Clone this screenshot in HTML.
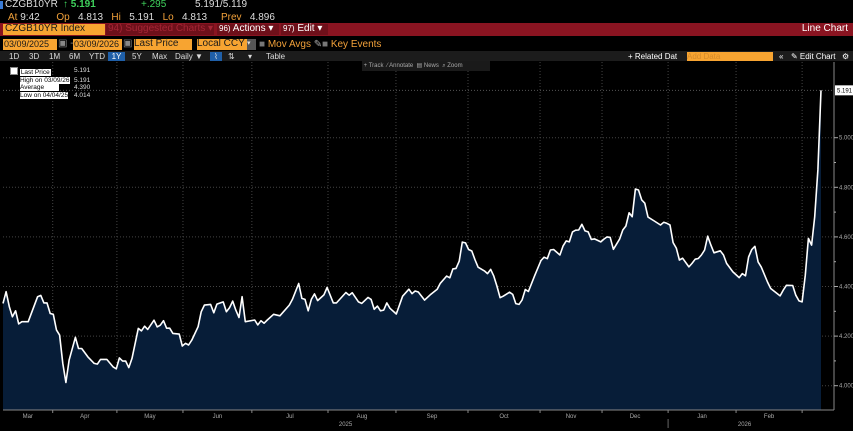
<!DOCTYPE html>
<html><head><meta charset="utf-8"><style>
body{margin:0;width:853px;height:431px;background:#000;overflow:hidden;font-family:"Liberation Sans",sans-serif;color:#ddd;position:relative}
.a{position:absolute;white-space:nowrap}
.t{font-size:10px;line-height:10px}
.o{color:#f2a13a}
.box{background:#f7a431;color:#1a1a1a}
.btn{position:absolute;top:52px;font-size:8px;line-height:9px;color:#ddd}
</style></head><body>
<div class="a" style="left:0;top:1px;width:3px;height:8px;background:#3a7bd5"></div>
<div class="a t" style="left:5px;top:0">CZGB10YR</div>
<div class="a t" style="left:63px;top:0;color:#3fd15c;font-weight:bold">↑ 5.191</div>
<div class="a t" style="left:141px;top:0;color:#3fd15c">+.295</div>
<div class="a t" style="left:195px;top:0">5.191/5.119</div>
<div class="a t" style="left:8px;top:13px"><span class="o">At</span> 9:42 &nbsp;&nbsp;&nbsp;&nbsp;&nbsp;<span class="o">Op</span>&nbsp;&nbsp; 4.813 &nbsp;&nbsp;<span class="o">Hi</span>&nbsp;&nbsp; 5.191 &nbsp;&nbsp;<span class="o">Lo</span>&nbsp;&nbsp; 4.813 &nbsp;&nbsp;&nbsp;&nbsp;<span class="o">Prev</span>&nbsp;&nbsp; 4.896</div>
<div class="a" style="left:0;top:23px;width:853px;height:13px;background:#8a1421"></div>
<div class="a t box" style="left:3px;top:24px;width:100px;height:11px;padding-left:2px;font-size:10px">CZGB10YR Index</div>
<div class="a t" style="left:106px;top:24px;width:106px;height:11px;background:#6e101a;color:#a52535;padding-left:2px">94) Suggested Charts ▾</div>
<div class="a t" style="left:217px;top:24px;width:60px;height:11px;background:#6e101a;color:#fff;padding-left:2px"><span style="font-size:8px">96)</span> Actions ▾</div>
<div class="a t" style="left:281px;top:24px;width:45px;height:11px;background:#6e101a;color:#fff;padding-left:2px"><span style="font-size:8px">97)</span> Edit ▾</div>
<div class="a t" style="right:5px;top:24px;color:#fff">Line Chart</div>
<div class="a t box" style="left:3px;top:39px;width:53px;height:11px;font-size:9px;padding-left:1px">03/09/2025</div>
<div class="a t" style="left:58px;top:39px;color:#888">▣ -</div>
<div class="a t box" style="left:73px;top:39px;width:48px;height:11px;font-size:9px;padding-left:1px">03/09/2026</div>
<div class="a t" style="left:123px;top:39px;color:#888">▣</div>
<div class="a t box" style="left:134px;top:39px;width:58px;height:11px">Last Price</div>
<div class="a t box" style="left:197px;top:39px;width:50px;height:11px">Local CCY</div>
<div class="a t" style="left:247px;top:39px;width:9px;height:11px;background:#555;color:#ddd;font-size:7px">▾</div>
<div class="a t o" style="left:259px;top:40px"><span style="color:#777">■</span> Mov Avgs <span style="color:#aaa">✎</span></div>
<div class="a t o" style="left:322px;top:40px"><span style="color:#777">■</span> Key Events</div>
<div class="a" style="left:0;top:51px;width:853px;height:10px;background:#1c1c1c"></div>
<div class="btn" style="left:9px">1D</div>
<div class="btn" style="left:29px">3D</div>
<div class="btn" style="left:49px">1M</div>
<div class="btn" style="left:69px">6M</div>
<div class="btn" style="left:89px">YTD</div>
<div class="btn" style="left:108px;width:17px;background:#1f5fa8;text-align:center;color:#fff">1Y</div>
<div class="btn" style="left:132px">5Y</div>
<div class="btn" style="left:152px">Max</div>
<div class="btn" style="left:175px">Daily ▼</div>
<div class="btn" style="left:210px;width:12px;background:#1f5fa8;text-align:center">⌇</div>
<div class="btn" style="left:228px">⇅</div>
<div class="btn" style="left:248px">▾</div>
<div class="btn" style="left:266px">Table</div>
<div class="btn" style="left:628px;color:#fff">+ Related Dat</div>
<div class="btn box" style="left:687px;width:86px;height:9px;color:#d58a2a">Add Data</div>
<div class="btn" style="left:779px;color:#fff">«</div>
<div class="btn" style="left:791px;color:#fff">✎ Edit Chart</div>
<div class="btn" style="left:842px;color:#fff">⚙</div>
<svg id="chart" class="a" style="left:0;top:0" width="853" height="431"></svg>
<script>
const days=[0,1,2,3,4,5,6,8,11,12,13,14,15,16,17,18,19,20,21,23,24,25,27,29,30,31,33,35,36,37,38,39,40,41,43,44,45,46,48,49,50,51,52,53,54,56,57,58,59,60,62,63,64,66,67,68,70,71,72,73,74,75,76,77,80,81,82,83,84,86,88,91,92,94,95,96,97,98,99,100,102,103,105,106,109,110,111,113,114,116,117,118,119,120,121,122,123,125,127,129,130,131,132,134,136,138,139,141,142,143,144,145,146,147,148,149,150,151,153,154,155,156,157,158,159,161,162,163,164,165,166,167,169,171,172,173,174,175,177,178,179,180,181,182,183,184,185,186,187,188,190,191,192,193,194,196,197,198,199,200,201,202,203,204,205,207,209,210,211,212,213,214,215,216,218,219,220,221,222,223,224,225,226,228,229,230,232,234,235,236,237,238,239,240,241,243,244,247,248,249,251,252,253,254,255,256,257,258,259,260];
const values=[4.332,4.379,4.319,4.278,4.302,4.249,4.258,4.258,4.359,4.364,4.334,4.334,4.291,4.288,4.224,4.204,4.090,4.013,4.103,4.195,4.150,4.150,4.116,4.090,4.087,4.106,4.106,4.076,4.068,4.112,4.099,4.099,4.073,4.110,4.231,4.221,4.240,4.227,4.264,4.237,4.244,4.262,4.232,4.232,4.211,4.208,4.160,4.171,4.164,4.184,4.238,4.298,4.325,4.328,4.294,4.329,4.338,4.298,4.314,4.341,4.305,4.275,4.359,4.258,4.265,4.245,4.262,4.252,4.265,4.288,4.282,4.325,4.348,4.412,4.352,4.348,4.302,4.348,4.370,4.343,4.366,4.396,4.334,4.334,4.376,4.365,4.375,4.338,4.332,4.356,4.348,4.308,4.321,4.302,4.305,4.334,4.312,4.289,4.361,4.389,4.371,4.382,4.378,4.345,4.369,4.389,4.413,4.442,4.435,4.471,4.473,4.502,4.579,4.576,4.549,4.543,4.509,4.478,4.463,4.452,4.469,4.442,4.402,4.355,4.361,4.377,4.368,4.331,4.328,4.346,4.388,4.380,4.444,4.505,4.518,4.512,4.547,4.549,4.527,4.563,4.584,4.580,4.620,4.627,4.628,4.651,4.624,4.620,4.590,4.592,4.580,4.591,4.600,4.598,4.550,4.591,4.628,4.644,4.697,4.681,4.793,4.789,4.749,4.736,4.680,4.664,4.648,4.659,4.655,4.648,4.577,4.555,4.507,4.514,4.479,4.493,4.510,4.513,4.527,4.547,4.603,4.567,4.536,4.544,4.527,4.493,4.459,4.436,4.452,4.443,4.519,4.549,4.562,4.499,4.479,4.418,4.392,4.362,4.385,4.405,4.404,4.365,4.342,4.338,4.446,4.594,4.567,4.681,4.871,5.191];
const monthStarts=[15.8,36.2,57.2,79.1,103.3,124.9,147.8,170.7,190.4,211.4,233,254];
const monthLabels=["Mar","Apr","May","Jun","Jul","Aug","Sep","Oct","Nov","Dec","Jan","Feb"];
const yTicks=[4.0,4.2,4.4,4.6,4.8,5.0];
const yearLabels=["2025","2026"];
const lastPrice=5.191;
const NS="http://www.w3.org/2000/svg";
const svg=document.getElementById('chart');
const X0=3,X1=821,DMAX=260,PB=410;
const xs=d=>X0+(X1-X0)*d/DMAX;
const ys=v=>385.7-(v-4)*248;
function mk(t,a,p){const e=document.createElementNS(NS,t);for(const k in a)e.setAttribute(k,a[k]);(p||svg).appendChild(e);return e;}
yTicks.forEach(v=>{const g=mk('line',{x1:X0,x2:834,y1:ys(v),y2:ys(v),stroke:'#444','stroke-dasharray':'1,2','stroke-width':1});

});
monthStarts.forEach(d=>{const g=mk('line',{x1:xs(d),x2:xs(d),y1:62,y2:PB,stroke:'#444','stroke-dasharray':'1,2','stroke-width':1});

});
let pts=days.map((d,i)=>xs(d).toFixed(1)+','+ys(values[i]).toFixed(1));
const area=mk('polygon',{points:xs(days[0])+','+PB+' '+pts.join(' ')+' '+xs(days[days.length-1])+','+PB,fill:'#071d38'});


const ln=mk('polyline',{points:pts.join(' '),fill:'none',stroke:'#fff','stroke-width':1.6,'stroke-linejoin':'round'});


const lp=mk('line',{x1:X0,x2:834,y1:ys(lastPrice),y2:ys(lastPrice),stroke:'#555','stroke-dasharray':'1,2'});


const ya=mk('line',{x1:834,x2:834,y1:62,y2:PB,stroke:'#888'});


const xa=mk('line',{x1:X0,x2:834,y1:PB,y2:PB,stroke:'#888'});


yTicks.forEach(v=>{mk('line',{x1:834,x2:838,y1:ys(v),y2:ys(v),stroke:'#aaa'});
const t=mk('text',{x:839,y:ys(v)+2,fill:'#aaa','font-size':6,'font-family':'Liberation Sans'});t.textContent=v.toFixed(3);

});
yTicks.forEach(v=>{if(v<5)mk('line',{x1:834,x2:836,y1:ys(v+0.1),y2:ys(v+0.1),stroke:'#aaa'});});
const bounds=[0].concat(monthStarts).concat([DMAX]);
monthLabels.forEach((m,i)=>{mk('line',{x1:xs(monthStarts[i]),x2:xs(monthStarts[i]),y1:PB,y2:PB+3,stroke:'#888'});
const t=mk('text',{x:(xs(bounds[i])+xs(bounds[i+1]))/2,y:418,fill:'#aaa','font-size':6,'text-anchor':'middle','font-family':'Liberation Sans'});t.textContent=m;

});
[[0,monthStarts[9]],[monthStarts[9],DMAX]].forEach((r,i)=>{const t=mk('text',{x:(xs(r[0])+xs(r[1]))/2+(i?0:10),y:426,fill:'#aaa','font-size':6,'text-anchor':'middle','font-family':'Liberation Sans'});t.textContent=yearLabels[i];

});
mk('line',{x1:xs(monthStarts[9]),x2:xs(monthStarts[9]),y1:419,y2:428,stroke:'#666'});
const tg=mk('rect',{x:835,y:ys(lastPrice)-5,width:18,height:10,fill:'#fff'});


const tt=mk('text',{x:837,y:ys(lastPrice)+2,fill:'#000','font-size':6,'font-family':'Liberation Sans'});tt.textContent=lastPrice.toFixed(3);


</script>
<div class="a" style="left:10px;top:67px;font-size:6.5px;line-height:7.6px;color:#000;width:80px">
<div><span style="display:inline-block;width:6px;height:6px;background:#fff;border:1px solid #888;vertical-align:-1px"></span> <span style="background:#fff;padding:0 1px">Last Price</span><span style="color:#ddd;position:absolute;left:64px">5.191</span></div>
<div style="padding-left:10px"><span style="background:#fff">High on 03/09/26</span><span style="color:#ddd;position:absolute;left:64px">5.191</span></div>
<div style="padding-left:10px"><span style="background:#fff">Average&nbsp;&nbsp;&nbsp;&nbsp;&nbsp;&nbsp;&nbsp;&nbsp;</span><span style="color:#ddd;position:absolute;left:64px">4.390</span></div>
<div style="padding-left:10px"><span style="background:#fff">Low on 04/04/25</span><span style="color:#ddd;position:absolute;left:64px">4.014</span></div>
</div>
<div class="a" style="left:362px;top:61px;height:10px;width:128px;background:#1a1a1a;font-size:6px;line-height:10px;color:#aaa">&nbsp;+ Track &nbsp;⁄ Annotate &nbsp;▤ News &nbsp;⌕ Zoom</div>
</body></html>
